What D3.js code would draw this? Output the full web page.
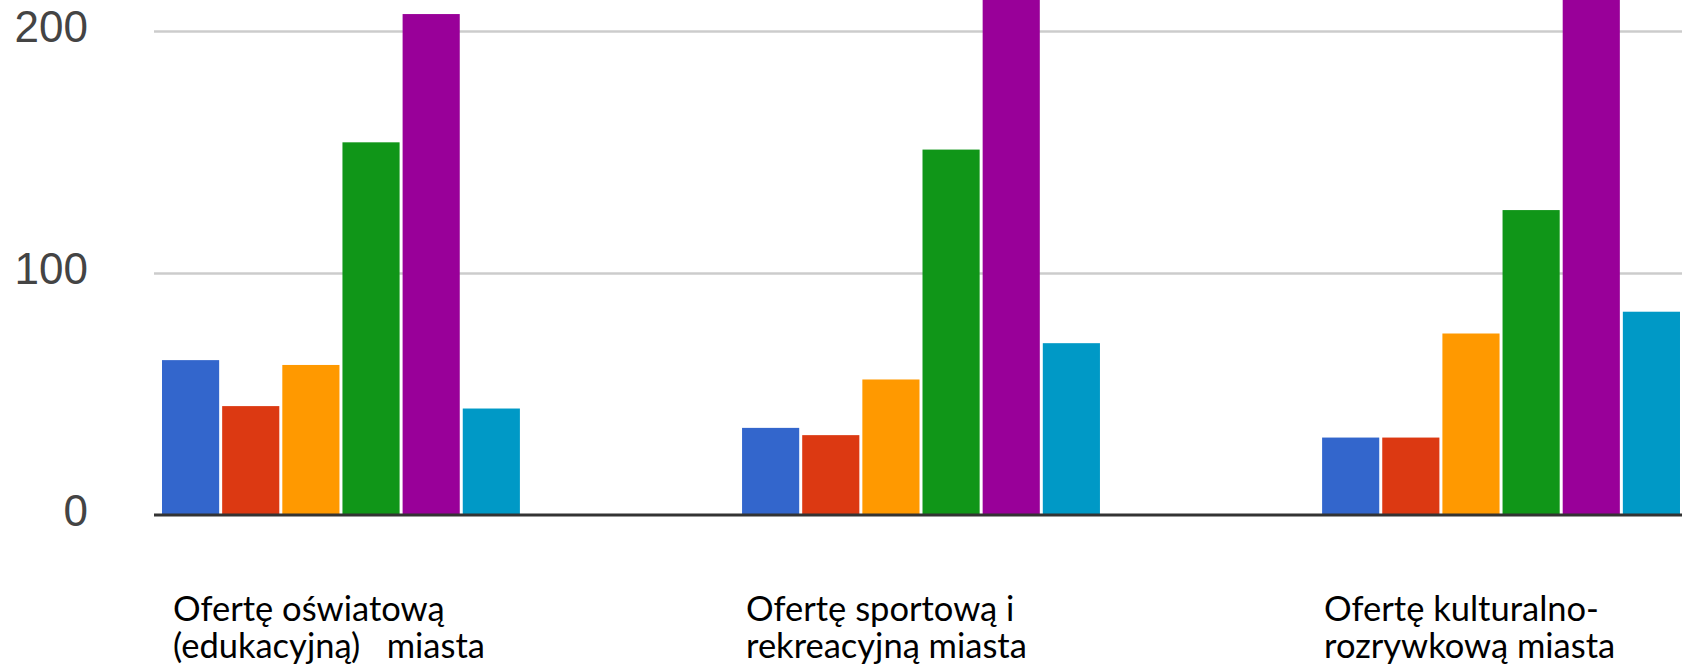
<!DOCTYPE html>
<html>
<head>
<meta charset="utf-8">
<script src="https://cdn.jsdelivr.net/npm/d3@7"></script>
<style>
  html, body { margin: 0; padding: 0; background: #ffffff; }
  svg { display: block; }
</style>
</head>
<body>
<svg id="chart" width="1682" height="670"></svg>
<script>
// ---- data ----
const categories = [
  "Ofertę oświatową (edukacyjną) miasta",
  "Ofertę sportową i rekreacyjną miasta",
  "Ofertę kulturalno-rozrywkową miasta"
];
const categoryLines = [
  ["Ofertę oświatową", "(edukacyjną)\u00a0\u00a0\u00a0miasta"],
  ["Ofertę sportową i", "rekreacyjną miasta"],
  ["Ofertę kulturalno-", "rozrywkową miasta"]
];
const seriesNames = ["s1", "s2", "s3", "s4", "s5", "s6"];
const seriesColors = ["#3366cc", "#dc3912", "#ff9900", "#109618", "#990099", "#0099c6"];
const values1 = [64, 45, 62, 154, 207, 44];
const values2 = [36, 33, 56, 151, 230, 71];
const values3 = [32, 32, 75, 126, 229, 84];
const yTicks = [0, 100, 200];

// ---- layout / style ----
const W = 1682, H = 670;
const plotLeft = 154;
const labelDx = [11, 4, 2];

const svg = d3.select("#chart");
const rows = [values1, values2, values3];

const x0 = d3.scaleBand().domain(categories).range([46, 1796])
  .paddingInner(0.383).paddingOuter(0.2);
const x1 = d3.scaleBand().domain(seriesNames).range([0, x0.bandwidth()])
  .paddingInner(0.05).paddingOuter(0);
const y = d3.scaleLinear().domain([0, 200]).range([515, 31]);
const color = d3.scaleOrdinal().domain(seriesNames).range(seriesColors);

// gridlines + tick labels
const yAxis = d3.axisLeft(y).tickValues(yTicks).tickSize(-(W - plotLeft)).tickPadding(66)
  .tickFormat(d3.format("d"));
const gy = svg.append("g").attr("transform", `translate(${plotLeft},0)`).call(yAxis);
gy.select(".domain").remove();
gy.selectAll(".tick line").attr("stroke", "#cccccc").attr("stroke-width", 2.5)
  .filter(d => d === 0).remove();
gy.selectAll(".tick text")
  .attr("fill", "#444444")
  .attr("font-family", "'Liberation Sans', Arial, sans-serif")
  .attr("font-size", 44)
  .attr("dy", "0.24em");

// bars
const groups = svg.append("g").selectAll("g")
  .data(categories).join("g")
  .attr("transform", d => `translate(${x0(d)},0)`);
groups.selectAll("rect")
  .data((c, i) => seriesNames.map((s, j) => ({ s, v: rows[i][j] })))
  .join("rect")
  .attr("x", d => x1(d.s))
  .attr("width", x1.bandwidth())
  .attr("y", d => y(d.v))
  .attr("height", d => y(0) - y(d.v))
  .attr("fill", d => color(d.s));

// baseline
svg.append("line")
  .attr("x1", plotLeft).attr("x2", W)
  .attr("y1", y(0)).attr("y2", y(0))
  .attr("stroke", "#333333").attr("stroke-width", 3);

// category labels
categories.forEach((c, i) => {
  const t = svg.append("text")
    .attr("x", x0(c) + labelDx[i])
    .attr("y", 621)
    .attr("font-family", "Lato, 'Open Sans', sans-serif")
    .attr("font-size", 34.5)
    .attr("fill", "#000000");
  categoryLines[i].forEach((ln, k) => {
    t.append("tspan").attr("x", x0(c) + labelDx[i]).attr("dy", k === 0 ? 0 : 37).text(ln);
  });
});
</script>
</body>
</html>
